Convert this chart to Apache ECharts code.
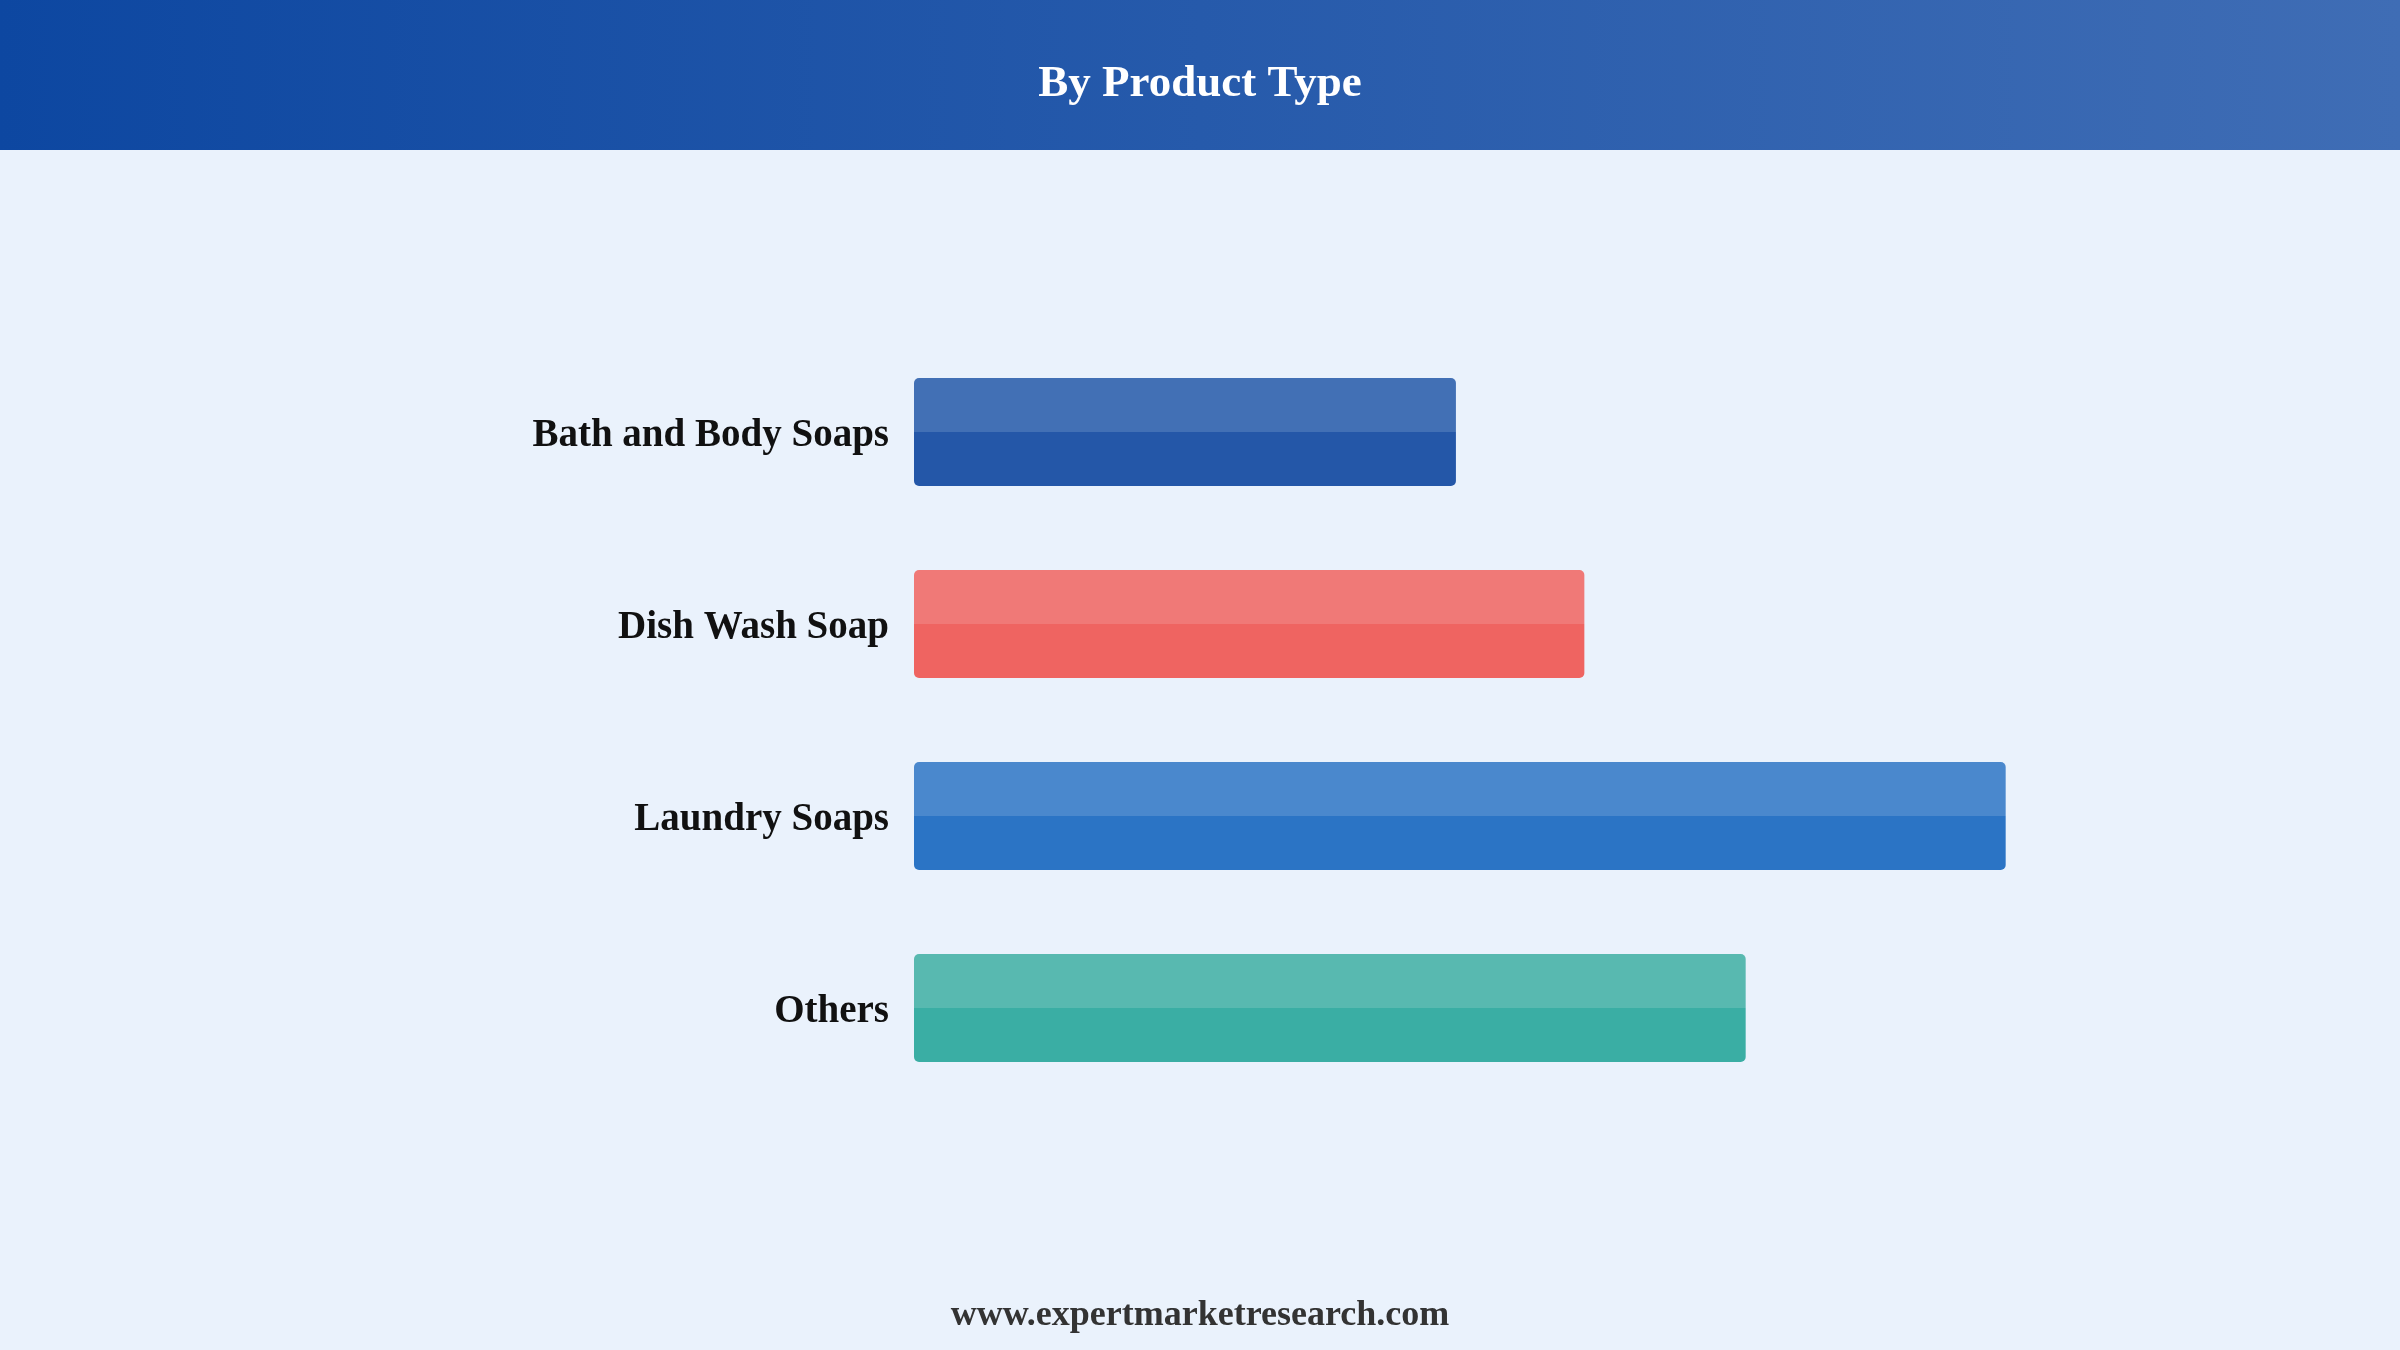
<!DOCTYPE html>
<html>
<head>
<meta charset="utf-8">
<style>
  html, body { margin: 0; padding: 0; background: #EAF2FC; }
  #chart { width: 2400px; height: 1350px; }
</style>
<script src="https://cdn.jsdelivr.net/npm/echarts@6/dist/echarts.min.js"></script>
</head>
<body>
<div id="chart"></div>
<script>
// Data
const categories = ['Bath and Body Soaps', 'Dish Wash Soap', 'Laundry Soaps', 'Others'];
const shares = [17.3, 21.4, 34.85, 26.55];

// Styles (kept separate from data)
const palette = [
  { light: '#4270B5', dark: '#2457A8' },
  { light: '#F07977', dark: '#EF6461' },
  { light: '#4A88CD', dark: '#2B74C5' },
  { light: '#58B9B0', dark: '#3AAEA4' }
];
const serif = '"Liberation Serif", "Times New Roman", serif';

const chart = echarts.init(document.getElementById('chart'), null, { renderer: 'canvas' });

const seriesData = shares.map((v, i) => ({
  value: v,
  itemStyle: {
    color: new echarts.graphic.LinearGradient(0, 0, 0, 1, [
      { offset: 0, color: palette[i].light },
      { offset: 0.5, color: palette[i].light },
      { offset: 0.5, color: palette[i].dark },
      { offset: 1, color: palette[i].dark }
    ]),
    borderRadius: 5
  }
}));

chart.setOption({
  backgroundColor: '#EAF2FC',
  animation: false,
  graphic: [
    {
      type: 'rect',
      left: 0, top: 0, z: 0,
      shape: { width: 2400, height: 150 },
      style: {
        fill: new echarts.graphic.LinearGradient(0, 0, 1, 0, [
          { offset: 0, color: '#0D47A1' },
          { offset: 1, color: '#3F6DB5' }
        ])
      }
    },
    {
      type: 'text',
      left: 'center', top: 1298, z: 5,
      style: {
        text: 'www.expertmarketresearch.com',
        font: 'bold 36px ' + serif,
        fill: '#333333'
      }
    }
  ],
  title: {
    text: 'By Product Type',
    left: 'center',
    top: 57,
    textStyle: {
      color: '#FFFFFF',
      fontFamily: serif,
      fontWeight: 'bold',
      fontSize: 45
    }
  },
  grid: { left: 914, right: 233, top: 336, bottom: 246, containLabel: false },
  xAxis: {
    type: 'value',
    min: 0, max: 40,
    show: false
  },
  yAxis: {
    type: 'category',
    data: categories,
    inverse: true,
    axisLine: { show: false },
    axisTick: { show: false },
    splitLine: { show: false },
    axisLabel: {
      margin: 25,
      formatter: function (v) { return '{a|' + v + '}'; },
      rich: {
        a: {
          color: '#111111',
          fontFamily: serif,
          fontWeight: 'bold',
          fontSize: 39,
          padding: [7, 0, 0, 0]
        }
      }
    }
  },
  series: [{
    type: 'bar',
    data: seriesData,
    barWidth: 108,
    label: { show: false }
  }]
});
</script>
</body>
</html>
